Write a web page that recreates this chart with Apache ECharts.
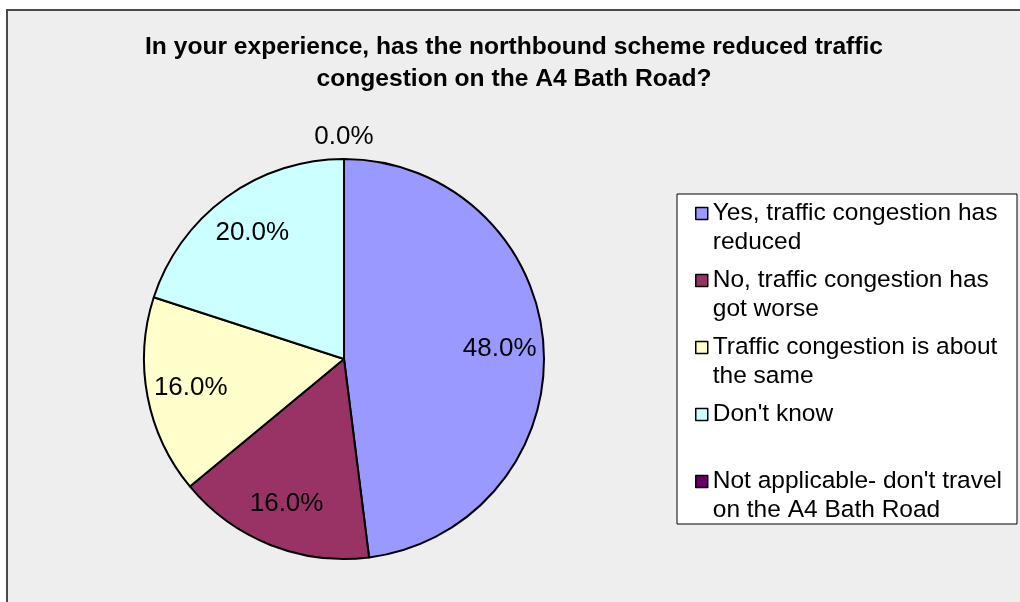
<!DOCTYPE html>
<html>
<head>
<meta charset="utf-8">
<script src="https://cdn.jsdelivr.net/npm/echarts@6/dist/echarts.min.js"></script>
<style>
  html, body { margin: 0; padding: 0; background: #fff; }
  #main { width: 1020px; height: 602px; }
</style>
</head>
<body>
<div id="main"></div>
<script>
// answers and their share of respondents
var answers = [
    'Yes, traffic congestion has reduced',
    'No, traffic congestion has got worse',
    'Traffic congestion is about the same',
    "Don't know",
    "Not applicable- don't travel on the A4 Bath Road"
];
var shares = [48, 16, 16, 20, 0];
// legend text as it wraps in the box
var legendLines = [
    ['Yes, traffic congestion has', 'reduced'],
    ['No, traffic congestion has', 'got worse'],
    ['Traffic congestion is about', 'the same'],
    ["Don't know", ' '],
    ["Not applicable- don't travel", 'on the A4 Bath Road']
];
var sliceColors = ['#9999ff', '#993366', '#ffffcc', '#ccffff', '#660066'];

var font = 'Liberation Sans, Arial, sans-serif';
var cx = 344, cy = 359, R = 200;

var myChart = echarts.init(document.getElementById('main'));

function pct(p) {
    return p.percent.toFixed(1) + '%';
}

var option = {
    animation: false,
    graphic: [
        {
            type: 'rect',
            shape: { x: 7, y: 10, width: 1030, height: 620 },
            style: { fill: '#eeeeee', stroke: '#4a4a4a', lineWidth: 2 },
            z: -10
        },
        {
            type: 'rect',
            shape: { x: 677, y: 194, width: 340, height: 330 },
            style: { fill: '#ffffff', stroke: '#000', lineWidth: 1 },
            z: -5
        }
    ],
    title: {
        text: 'In your experience, has the northbound scheme reduced traffic\ncongestion on the A4 Bath Road?',
        left: 514,
        top: 31,
        padding: 0,
        textAlign: 'center',
        textStyle: {
            fontFamily: font,
            fontSize: 24.6,
            fontWeight: 'bold',
            color: '#000',
            lineHeight: 32
        }
    },
    legend: {
        orient: 'vertical',
        left: 695,
        top: 170,
        padding: 0,
        itemGap: -20,
        itemWidth: 12,
        itemHeight: 12,
        icon: 'rect',
        selectedMode: false,
        data: answers,
        itemStyle: { borderColor: '#000', borderWidth: 1.5 },
        formatter: function (name) {
            var i = answers.indexOf(name);
            return '\n' + legendLines[i].join('\n');
        },
        textStyle: {
            fontFamily: font,
            fontSize: 24.5,
            color: '#000',
            lineHeight: 29
        }
    },
    series: [
        {
            name: 'main',
            type: 'pie',
            center: [cx, cy],
            radius: [0, R],
            startAngle: 90,
            clockwise: true,
            silent: true,
            label: { show: false },
            labelLine: { show: false },
            itemStyle: { borderColor: '#000', borderWidth: 2 },
            data: answers.map(function (a, i) {
                return { name: a, value: shares[i], itemStyle: { color: sliceColors[i] } };
            })
        },
        {
            // transparent ring, only used to place the percent labels
            name: 'labels',
            type: 'pie',
            center: [cx, cy],
            radius: [106, R],
            startAngle: 90,
            clockwise: true,
            silent: true,
            avoidLabelOverlap: false,
            itemStyle: { color: 'rgba(0,0,0,0)', borderWidth: 0 },
            label: {
                position: 'inside',
                formatter: pct,
                fontFamily: font,
                fontSize: 26,
                color: '#000'
            },
            data: answers.map(function (a, i) {
                return { name: a, value: shares[i], label: { show: shares[i] > 0 } };
            })
        },
        {
            name: 'zero',
            type: 'pie',
            center: [cx, cy],
            radius: [R, R + 38],
            startAngle: 90,
            clockwise: true,
            silent: true,
            avoidLabelOverlap: false,
            itemStyle: { color: 'rgba(0,0,0,0)', borderWidth: 0 },
            label: {
                position: 'inside',
                formatter: pct,
                fontFamily: font,
                fontSize: 26,
                color: '#000'
            },
            data: answers.map(function (a, i) {
                return { name: a, value: shares[i], label: { show: shares[i] === 0 } };
            })
        }
    ]
};

myChart.setOption(option);
</script>
</body>
</html>
